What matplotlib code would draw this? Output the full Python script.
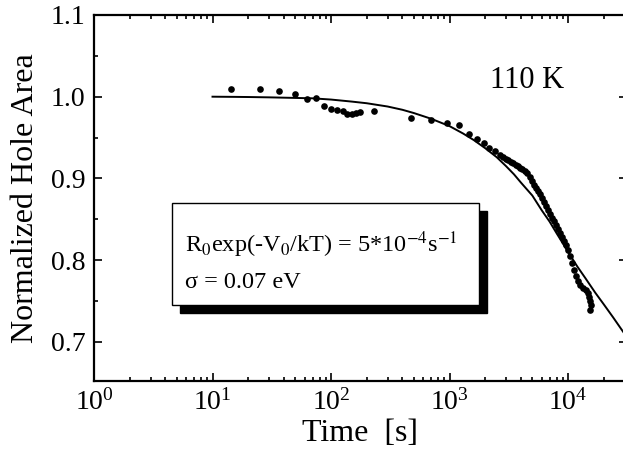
import matplotlib
matplotlib.use('Agg')
import matplotlib.pyplot as plt
from matplotlib.patches import Rectangle
from matplotlib.ticker import MultipleLocator, LogLocator, NullFormatter

plt.rcParams['font.family'] = ['Liberation Serif', 'DejaVu Serif']
plt.rcParams['mathtext.fontset'] = 'stix'

# measured hole area (dots)
time_s = [14.3, 25.2, 36.4, 49.7, 62.7, 74.6, 87.3, 100, 112, 126, 136, 150, 163, 176,
          231, 473, 698, 953, 1200, 1460, 1710, 1960, 2150, 2420,
          2670, 2830, 3000, 3120, 3300, 3440, 3640, 3790, 3940, 4090, 4340, 4510,
          4780, 4970, 5170, 5370, 5580, 5800, 6030, 6270, 6520, 6780, 7050, 7330,
          7620, 7920, 8230, 8560, 8900, 9250, 9620, 10000, 10400, 10810, 11240,
          11680, 12150, 12630, 13380, 14190, 14750, 15040, 15330, 15640, 15330]
area = [1.009, 1.009, 1.007, 1.003, 0.997, 0.998, 0.989, 0.985, 0.984, 0.982, 0.979, 0.979, 0.980, 0.981,
        0.982, 0.974, 0.971, 0.968, 0.965, 0.954, 0.948, 0.943, 0.937, 0.933,
        0.929, 0.926, 0.924, 0.923, 0.920, 0.919, 0.916, 0.915, 0.913, 0.912, 0.909, 0.907,
        0.902, 0.897, 0.892, 0.888, 0.885, 0.881, 0.876, 0.871, 0.866, 0.861, 0.856, 0.852,
        0.848, 0.843, 0.838, 0.833, 0.828, 0.823, 0.819, 0.812, 0.805, 0.797, 0.788,
        0.781, 0.774, 0.770, 0.766, 0.763, 0.760, 0.755, 0.750, 0.745, 0.739]

# model curve
fit_t = [10, 15, 20, 30, 50, 70, 100, 150, 200, 300, 400, 500, 700, 1000, 1300, 1600,
         2000, 2500, 3000, 3500, 4000, 5000, 6000, 7000, 8000, 9000, 10000, 12000,
         14000, 17000, 20000, 24000, 28000, 32000]
fit_a = [1.000, 0.9998, 0.9996, 0.9992, 0.9985, 0.998, 0.9965, 0.994, 0.992, 0.988, 0.984, 0.980,
         0.973, 0.964, 0.955, 0.947, 0.937, 0.926, 0.915, 0.905, 0.895, 0.879, 0.861, 0.847,
         0.833, 0.821, 0.810, 0.792, 0.778, 0.760, 0.746, 0.730, 0.716, 0.704]

fig = plt.figure(figsize=(6.23, 4.68), dpi=100)
ax = fig.add_axes([94/623, 1-381/468, 533/623, 366/468])

ax.plot(fit_t, fit_a, color='black', lw=1.4)
ax.plot(time_s, area, 'o', color='black', ms=4.8, mec='none')

ax.set_xscale('log')
ax.set_xlim(1, 10**(533/118.5))
ax.set_ylim(0.652, 1.1)
ax.yaxis.set_minor_locator(MultipleLocator(0.05))
ax.xaxis.set_major_locator(LogLocator(base=10, numticks=10))
ax.xaxis.set_minor_locator(LogLocator(base=10, subs=range(2, 10), numticks=20))
ax.xaxis.set_minor_formatter(NullFormatter())
ax.set_yticks([0.7, 0.8, 0.9, 1.0, 1.1])
ax.set_yticklabels(['0.7', '0.8', '0.9', '1.0', '1.1'])

ax.tick_params(which='both', direction='in', top=True, right=True, width=1.2, labelsize=20, pad=6)
ax.tick_params(which='major', length=6)
ax.tick_params(which='minor', length=3)
for s in ax.spines.values():
    s.set_linewidth(1.6)

ax.set_xlabel('Time  [s]', fontsize=23, labelpad=2)
ax.set_ylabel('Normalized Hole Area', fontsize=23, labelpad=8)

fig.text(0.846, 0.829, '110 K', fontsize=22, ha='center', va='center')

# shadowed box
fig.patches.append(Rectangle((180/623, 1-313/468), 307/623, 102/468, transform=fig.transFigure,
                             facecolor='black', edgecolor='black', zorder=5))
fig.patches.append(Rectangle((172/623, 1-305/468), 307/623, 102/468, transform=fig.transFigure,
                             facecolor='white', edgecolor='black', lw=1.0, zorder=6))
fig.text(185/623, 1-245/468, r'R$_0$exp(-V$_0$/kT) = 5*10$^{-4}$s$^{-1}$', fontsize=17.5,
         va='center', ha='left', zorder=7)
fig.text(185/623, 1-283/468, 'σ = 0.07 eV', fontsize=17.5, va='center', ha='left', zorder=7)

fig.savefig('out.png', dpi=100)
